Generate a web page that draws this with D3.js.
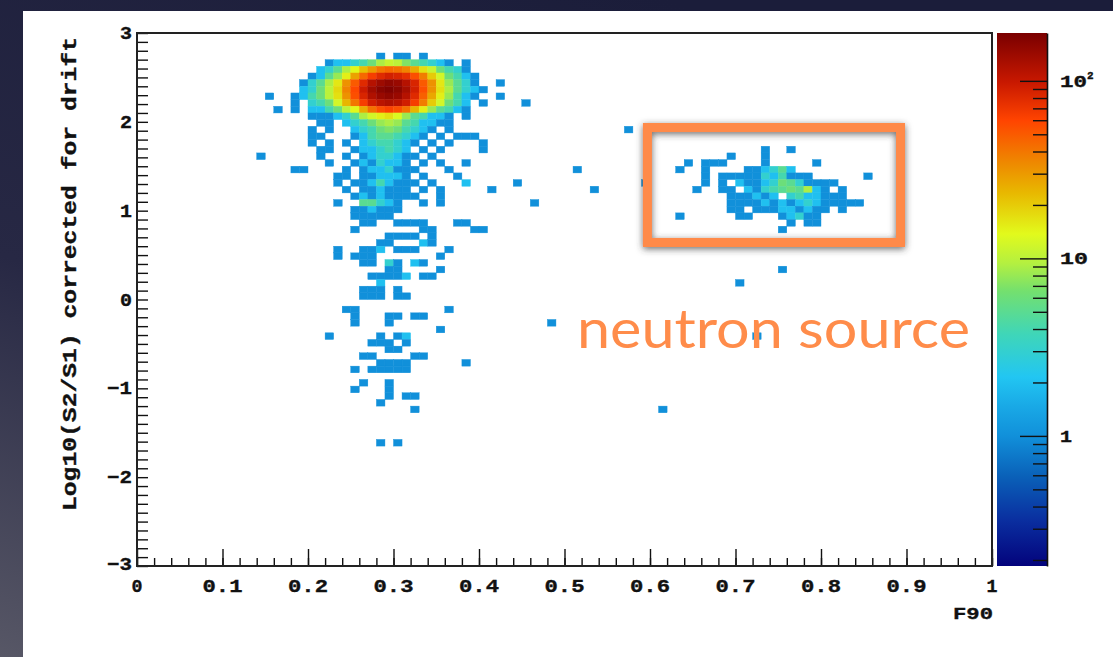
<!DOCTYPE html>
<html>
<head>
<meta charset="utf-8">
<script src="https://cdn.jsdelivr.net/npm/d3@7"></script>
<style>
  html, body { margin: 0; padding: 0; background: #1c1e3a; }
  svg { display: block; }
  .root-font { font-family: "Liberation Mono", "DejaVu Sans Mono", monospace; font-weight: bold; fill: #111; stroke: #111; stroke-width: 0.35; }
</style>
</head>
<body>
<div id="chart"></div>
<script>
'use strict';

// ------------------------------------
// DATA (2D histogram: 100 bins in F90, 80 bins in log10(S2/S1))
// ------------------------------------
const xBin = 0.01;
const yBin = 0.075;

const xTicks = [0, 0.1, 0.2, 0.3, 0.4, 0.5, 0.6, 0.7, 0.8, 0.9, 1];
const yTicks = [3, 2, 1, 0, -1, -2, -3];
const zTicks = [1, 10, 100];
const zRange = [0.185, 186];

// dense rows of the electron-recoil blob: [iy, first ix, counts...]
const coreRows = [
  [76, 28, [1, 0, 1, 1, 0, 1]],
  [75, 22, [1, 2, 2, 3, 4, 6, 9, 11, 10, 7, 5, 4, 3, 2, 1, 0, 1]],
  [74, 21, [2, 3, 5, 9, 14, 22, 30, 40, 45, 42, 36, 26, 17, 11, 6, 4, 3, 1]],
  [73, 20, [1, 2, 5, 8, 15, 28, 45, 65, 80, 90, 85, 75, 55, 38, 20, 12, 6, 4, 2, 1]],
  [72, 19, [1, 3, 5, 9, 16, 32, 50, 80, 115, 140, 155, 145, 115, 85, 50, 32, 16, 8, 5, 3, 1, 0, 0, 1]],
  [71, 19, [2, 3, 6, 10, 18, 36, 58, 95, 135, 165, 175, 160, 130, 90, 55, 32, 17, 9, 5, 3, 2, 1]],
  [70, 15, [1, 0, 0, 1, 2, 4, 6, 10, 17, 32, 55, 85, 120, 145, 155, 145, 115, 80, 48, 27, 15, 8, 4, 2, 1, 0, 0, 1]],
  [69, 18, [1, 0, 3, 4, 6, 12, 24, 40, 65, 92, 110, 120, 110, 92, 65, 38, 20, 12, 6, 4, 2, 0, 1, 0, 0, 0, 0, 1]],
  [68, 16, [1, 0, 1, 0, 2, 2, 4, 6, 10, 14, 26, 42, 55, 62, 55, 42, 24, 15, 8, 5, 4, 2, 1]],
  [67, 20, [1, 1, 1, 2, 3, 5, 9, 12, 15, 17, 13, 8, 5, 4, 2, 2, 1, 0, 1]],
  [66, 21, [1, 1, 0, 2, 3, 4, 6, 8, 9, 8, 5, 4, 2, 2, 1, 1]],
  [65, 20, [1, 0, 1, 0, 0, 2, 3, 4, 6, 7, 6, 4, 3, 2, 1, 0, 1]],
  [64, 20, [1, 1, 0, 0, 0, 1, 2, 4, 5, 5, 4, 3, 2, 1, 0, 1, 0, 1, 1, 1]]
];

// sparse tail below the blob and stray events: [iy, [[ix, count], ...]]
const tailRows = [
  [65, [[57, 1]]],
  [63, [[20, 1], [22, 1], [24, 1], [26, 2], [27, 3], [28, 4], [29, 4], [30, 3], [31, 2], [32, 1], [34, 1], [36, 1], [40, 1]]],
  [62, [[21, 1], [22, 1], [25, 1], [26, 2], [27, 2], [28, 3], [29, 4], [30, 3], [31, 2], [33, 1], [35, 1], [40, 1]]],
  [61, [[14, 1], [21, 1], [24, 1], [26, 1], [27, 2], [28, 3], [29, 3], [30, 2], [31, 1], [32, 1], [34, 1]]],
  [60, [[22, 1], [25, 1], [26, 2], [27, 1], [28, 3], [29, 2], [30, 2], [31, 1], [33, 1], [35, 1], [38, 1]]],
  [59, [[18, 1], [19, 1], [24, 1], [26, 1], [27, 2], [28, 2], [29, 3], [30, 1], [31, 1], [32, 1], [36, 1], [51, 1]]],
  [58, [[23, 1], [24, 1], [26, 1], [27, 1], [28, 2], [29, 2], [30, 2], [31, 1], [33, 1], [37, 1]]],
  [57, [[23, 1], [25, 1], [26, 1], [27, 2], [28, 4], [29, 2], [30, 1], [31, 1], [32, 1], [34, 1], [38, 2], [44, 1], [59, 1]]],
  [56, [[24, 1], [26, 1], [27, 1], [28, 2], [29, 1], [30, 1], [31, 1], [33, 1], [35, 1], [41, 1], [53, 1]]],
  [55, [[25, 1], [26, 2], [27, 1], [28, 2], [29, 1], [30, 1], [31, 1], [32, 1], [35, 1]]],
  [54, [[23, 1], [26, 5], [27, 5], [28, 3], [29, 2], [30, 1], [33, 1], [35, 1], [46, 1]]],
  [53, [[25, 1], [26, 1], [27, 2], [28, 1], [29, 1], [30, 1]]],
  [52, [[25, 1], [26, 1], [27, 1], [28, 1], [29, 1]]],
  [51, [[26, 1], [27, 1], [30, 1], [31, 1], [32, 1], [33, 1], [37, 1], [38, 1]]],
  [50, [[25, 1], [33, 1], [34, 1], [39, 1], [40, 1]]],
  [49, [[29, 1], [30, 1], [31, 1], [32, 1], [34, 1]]],
  [48, [[28, 1], [29, 1], [33, 2], [34, 1]]],
  [47, [[23, 1], [26, 1], [27, 1], [28, 2], [30, 1], [31, 1], [32, 1], [36, 1]]],
  [46, [[23, 1], [25, 1], [26, 1], [27, 1], [35, 1]]],
  [45, [[26, 1], [27, 1], [29, 3], [30, 1], [32, 2], [33, 1]]],
  [44, [[29, 1], [30, 1], [35, 1], [75, 1]]],
  [43, [[27, 1], [28, 1], [29, 1], [30, 1], [31, 2], [33, 1], [34, 1]]],
  [42, [[28, 2], [70, 1]]],
  [41, [[26, 1], [27, 1], [28, 1], [30, 1]]],
  [40, [[26, 1], [27, 1], [28, 1], [30, 1], [31, 1]]],
  [38, [[24, 1], [25, 1], [36, 1]]],
  [37, [[25, 1], [29, 1], [30, 1], [32, 1], [33, 1]]],
  [36, [[25, 1], [29, 1], [48, 1]]],
  [35, [[35, 1]]],
  [34, [[22, 1], [28, 1], [30, 1], [31, 2], [72, 1]]],
  [33, [[27, 1], [28, 1], [29, 1], [31, 1]]],
  [32, [[29, 1], [30, 1]]],
  [31, [[26, 1], [27, 1], [32, 1], [33, 1]]],
  [30, [[28, 1], [29, 1], [30, 1], [31, 1], [38, 1]]],
  [29, [[25, 1], [27, 1], [28, 1], [29, 1], [30, 1], [31, 1]]],
  [27, [[26, 1], [29, 1]]],
  [26, [[25, 1], [29, 1]]],
  [25, [[29, 1], [31, 1], [32, 1]]],
  [24, [[28, 1]]],
  [23, [[32, 1], [61, 1]]],
  [18, [[28, 1], [30, 1]]]
];

// nuclear-recoil cluster (neutron source): [iy, [[ix, count], ...]]
const neutronRows = [
  [62, [[73, 1], [76, 1]]],
  [61, [[69, 1], [73, 1]]],
  [60, [[64, 1], [66, 1], [67, 1], [68, 1], [73, 1], [79, 1]]],
  [59, [[63, 1], [66, 1], [71, 1], [72, 1], [73, 2], [74, 3], [75, 5], [76, 2]]],
  [58, [[66, 1], [68, 1], [69, 1], [70, 1], [71, 1], [72, 1], [73, 3], [74, 2], [75, 4], [76, 1], [77, 1], [78, 1], [85, 1]]],
  [57, [[66, 1], [68, 1], [70, 2], [71, 1], [72, 1], [73, 2], [74, 3], [75, 6], [76, 5], [77, 3], [78, 1], [79, 1], [80, 1], [81, 1]]],
  [56, [[65, 1], [68, 1], [69, 1], [71, 2], [72, 1], [73, 3], [74, 4], [75, 5], [76, 6], [77, 5], [78, 9], [79, 2], [80, 1], [82, 1]]],
  [55, [[69, 1], [70, 1], [71, 1], [72, 2], [73, 1], [74, 2], [76, 3], [77, 4], [78, 2], [79, 2], [80, 1], [81, 1], [82, 1]]],
  [54, [[69, 1], [70, 1], [71, 1], [72, 1], [73, 2], [74, 1], [75, 2], [76, 1], [77, 2], [78, 3], [79, 2], [80, 1], [81, 1], [82, 1], [83, 1], [84, 1]]],
  [53, [[69, 1], [70, 1], [72, 1], [73, 1], [74, 1], [75, 2], [76, 2], [77, 1], [78, 2], [79, 1], [80, 1], [82, 1]]],
  [52, [[63, 1], [70, 1], [71, 1], [75, 1], [76, 2], [77, 3], [78, 1], [79, 1]]],
  [51, [[76, 1], [78, 1], [79, 1]]],
  [50, [[75, 1]]]
];

// palette (ROOT-like rainbow), position along log z axis -> colour
const paletteStops = [0, 0.087, 0.167, 0.244, 0.30, 0.355, 0.435, 0.516, 0.568, 0.623, 0.70, 0.755, 0.836, 0.908, 1];
const paletteColors = ["#03037c", "#0a2fa0", "#0a60b8", "#1190da", "#19a9e6", "#22c6f2", "#3fd6b8",
  "#74e06e", "#b4f040", "#e2fa1c", "#e8b800", "#ee8a00", "#ff4400", "#c81800", "#7a0000"];

// annotation box and label (data coordinates)
const boxF90 = [0.597, 0.893];
const boxLog = [0.642, 1.936];
const noteText = "neutron source";
const notePos = [0.5146, -0.546];

// ------------------------------------
// SETUP
// ------------------------------------
const width = 1113;
const height = 657;
const plot = { left: 137, right: 992, top: 33, bottom: 566 };
const cbar = { left: 997, right: 1047 };

const xScale = d3.scaleLinear().domain([0, 1]).range([plot.left, plot.right]);
const yScale = d3.scaleLinear().domain([-3, 3]).range([plot.bottom, plot.top]);
const zScale = d3.scaleLog().domain(zRange).range([plot.bottom, plot.top]);
const zNorm = d3.scaleLog().domain(zRange).range([0, 1]).clamp(true);
const palette = d3.scaleLinear().domain(paletteStops).range(paletteColors).interpolate(d3.interpolateRgb);

const svg = d3.select("#chart").append("svg")
  .attr("width", width)
  .attr("height", height);

const defs = svg.append("defs");

// slide background
const bg = defs.append("linearGradient").attr("id", "slideBg")
  .attr("x1", 0.6).attr("y1", 0).attr("x2", 0).attr("y2", 1);
bg.append("stop").attr("offset", 0).attr("stop-color", "#1b1d3a");
bg.append("stop").attr("offset", 0.55).attr("stop-color", "#272844");
bg.append("stop").attr("offset", 1).attr("stop-color", "#575766");

const cbGrad = defs.append("linearGradient").attr("id", "cbGrad")
  .attr("x1", 0).attr("y1", 1).attr("x2", 0).attr("y2", 0);
paletteStops.forEach((s, i) => {
  cbGrad.append("stop").attr("offset", s).attr("stop-color", paletteColors[i]);
});

const shadow = defs.append("filter").attr("id", "boxShadow")
  .attr("x", "-20%").attr("y", "-30%").attr("width", "140%").attr("height", "160%");
shadow.append("feDropShadow")
  .attr("dx", 0).attr("dy", 2)
  .attr("stdDeviation", 3.5)
  .attr("flood-color", "#3a3a3a")
  .attr("flood-opacity", 0.75);

defs.append("clipPath").attr("id", "plotClip")
  .append("rect")
  .attr("x", plot.left).attr("y", plot.top)
  .attr("width", plot.right - plot.left).attr("height", plot.bottom - plot.top);

svg.append("rect").attr("width", width).attr("height", height).attr("fill", "url(#slideBg)");
svg.append("rect").attr("x", 23).attr("y", 11).attr("width", width - 23).attr("height", height - 11).attr("fill", "#fff");

// ------------------------------------
// BINS
// ------------------------------------
const bins = [];
coreRows.forEach(([iy, ix0, counts]) => {
  counts.forEach((n, k) => { if (n > 0) bins.push({ ix: ix0 + k, iy, n }); });
});
[...tailRows, ...neutronRows].forEach(([iy, cells]) => {
  cells.forEach(([ix, n]) => bins.push({ ix, iy, n }));
});

svg.append("g")
  .attr("clip-path", "url(#plotClip)")
  .selectAll("rect")
  .data(bins)
  .join("rect")
  .attr("x", d => xScale(d.ix * xBin))
  .attr("width", d => xScale((d.ix + 1) * xBin) - xScale(d.ix * xBin))
  .attr("y", d => yScale(-3 + (d.iy + 1) * yBin))
  .attr("height", d => yScale(-3 + d.iy * yBin) - yScale(-3 + (d.iy + 1) * yBin))
  .attr("fill", d => palette(zNorm(d.n)))
  .attr("stroke", d => palette(zNorm(d.n)))
  .attr("stroke-width", 0.4);

// ------------------------------------
// AXES
// ------------------------------------
const xMinor = d3.range(0, 51).map(i => i * 0.02);
const yMinor = d3.range(0, 61).map(i => -3 + i * 0.1);

svg.append("g")
  .attr("transform", `translate(0, ${plot.bottom})`)
  .call(d3.axisBottom(xScale).tickValues(xMinor).tickSizeInner(-8).tickSizeOuter(0).tickFormat(""))
  .call(g => g.select(".domain").remove())
  .call(g => g.selectAll("line").attr("stroke", "#111").attr("stroke-width", 1.4));

svg.append("g")
  .attr("transform", `translate(0, ${plot.bottom})`)
  .call(d3.axisBottom(xScale).tickValues(xTicks).tickSizeInner(-17).tickSizeOuter(0).tickFormat(""))
  .call(g => g.select(".domain").remove())
  .call(g => g.selectAll("line").attr("stroke", "#111").attr("stroke-width", 1.4));

svg.append("g")
  .attr("transform", `translate(${plot.left}, 0)`)
  .call(d3.axisLeft(yScale).tickValues(yMinor).tickSizeInner(-11).tickSizeOuter(0).tickFormat(""))
  .call(g => g.select(".domain").remove())
  .call(g => g.selectAll("line").attr("stroke", "#111").attr("stroke-width", 1.4));

// frame
svg.append("rect")
  .attr("x", plot.left).attr("y", plot.top)
  .attr("width", plot.right - plot.left).attr("height", plot.bottom - plot.top)
  .attr("fill", "none").attr("stroke", "#222").attr("stroke-width", 2);

// tick labels
svg.append("g").selectAll("text")
  .data(xTicks)
  .join("text")
  .attr("class", "root-font")
  .attr("x", d => xScale(d))
  .attr("y", 592)
  .attr("text-anchor", "middle")
  .attr("font-size", 18)
  .attr("textLength", d => (d === 0 || d === 1) ? 11 : 40)
  .attr("lengthAdjust", "spacingAndGlyphs")
  .text(d => String(+d.toFixed(1)));

svg.append("g").selectAll("text")
  .data(yTicks)
  .join("text")
  .attr("class", "root-font")
  .attr("x", 132)
  .attr("y", d => yScale(d) + (d === -3 ? 4 : 6))
  .attr("text-anchor", "end")
  .attr("font-size", 18)
  .attr("textLength", d => d < 0 ? 25 : 12)
  .attr("lengthAdjust", "spacingAndGlyphs")
  .text(d => d < 0 ? "\u2212" + Math.abs(d) : String(d));

svg.append("text")
  .attr("class", "root-font")
  .attr("x", 993)
  .attr("y", 619)
  .attr("text-anchor", "end")
  .attr("font-size", 17)
  .attr("textLength", 40)
  .attr("lengthAdjust", "spacingAndGlyphs")
  .text("F90");

svg.append("text")
  .attr("class", "root-font")
  .attr("transform", "translate(76, 274) rotate(-90)")
  .attr("text-anchor", "middle")
  .attr("font-size", 20)
  .attr("textLength", 474)
  .attr("lengthAdjust", "spacingAndGlyphs")
  .text("Log10(S2/S1) corrected for drift");

// ------------------------------------
// COLOUR BAR
// ------------------------------------
svg.append("rect")
  .attr("x", cbar.left).attr("y", plot.top)
  .attr("width", cbar.right - cbar.left).attr("height", plot.bottom - plot.top)
  .attr("fill", "url(#cbGrad)");

const zMinor = [0.2, 0.3, 0.4, 0.5, 0.6, 0.7, 0.8, 0.9, 2, 3, 4, 5, 6, 7, 8, 9, 20, 30, 40, 50, 60, 70, 80, 90];

svg.append("g")
  .attr("transform", `translate(${cbar.right}, 0)`)
  .call(d3.axisRight(zScale).tickValues(zMinor).tickSizeInner(-14).tickSizeOuter(0).tickFormat(""))
  .call(g => g.select(".domain").attr("stroke", "#111").attr("stroke-width", 1.6))
  .call(g => g.selectAll("line").attr("stroke", "#111").attr("stroke-width", 1.4));

svg.append("g")
  .attr("transform", `translate(${cbar.right}, 0)`)
  .call(d3.axisRight(zScale).tickValues(zTicks).tickSizeInner(-27).tickSizeOuter(0).tickFormat(""))
  .call(g => g.select(".domain").remove())
  .call(g => g.selectAll("line").attr("stroke", "#111").attr("stroke-width", 1.4));

const zLabels = svg.append("g").selectAll("text")
  .data(zTicks)
  .join("text")
  .attr("class", "root-font")
  .attr("x", 1060)
  .attr("y", d => zScale(d) + 6)
  .attr("font-size", 17);

zLabels.each(function (d) {
  const t = d3.select(this);
  if (d === 100) {
    t.append("tspan").attr("textLength", 27).attr("lengthAdjust", "spacingAndGlyphs").text("10");
    t.append("tspan").attr("font-size", 11).attr("dy", -8).text("2");
  } else if (d === 10) {
    t.attr("textLength", 28).attr("lengthAdjust", "spacingAndGlyphs").text("10");
  } else {
    t.attr("textLength", 12).attr("lengthAdjust", "spacingAndGlyphs").text("1");
  }
});

// ------------------------------------
// ANNOTATION
// ------------------------------------
svg.append("rect")
  .attr("x", xScale(boxF90[0]))
  .attr("y", yScale(boxLog[1]))
  .attr("width", xScale(boxF90[1]) - xScale(boxF90[0]))
  .attr("height", yScale(boxLog[0]) - yScale(boxLog[1]))
  .attr("fill", "none")
  .attr("stroke", "#ff8a48")
  .attr("stroke-width", 9)
  .attr("filter", "url(#boxShadow)");

svg.append("text")
  .attr("x", xScale(notePos[0]))
  .attr("y", yScale(notePos[1]))
  .attr("font-family", "Lato, 'Open Sans', sans-serif")
  .attr("font-size", 54)
  .attr("fill", "#ff8c4a")
  .attr("textLength", 393)
  .attr("lengthAdjust", "spacingAndGlyphs")
  .text(noteText);
</script>
</body>
</html>
